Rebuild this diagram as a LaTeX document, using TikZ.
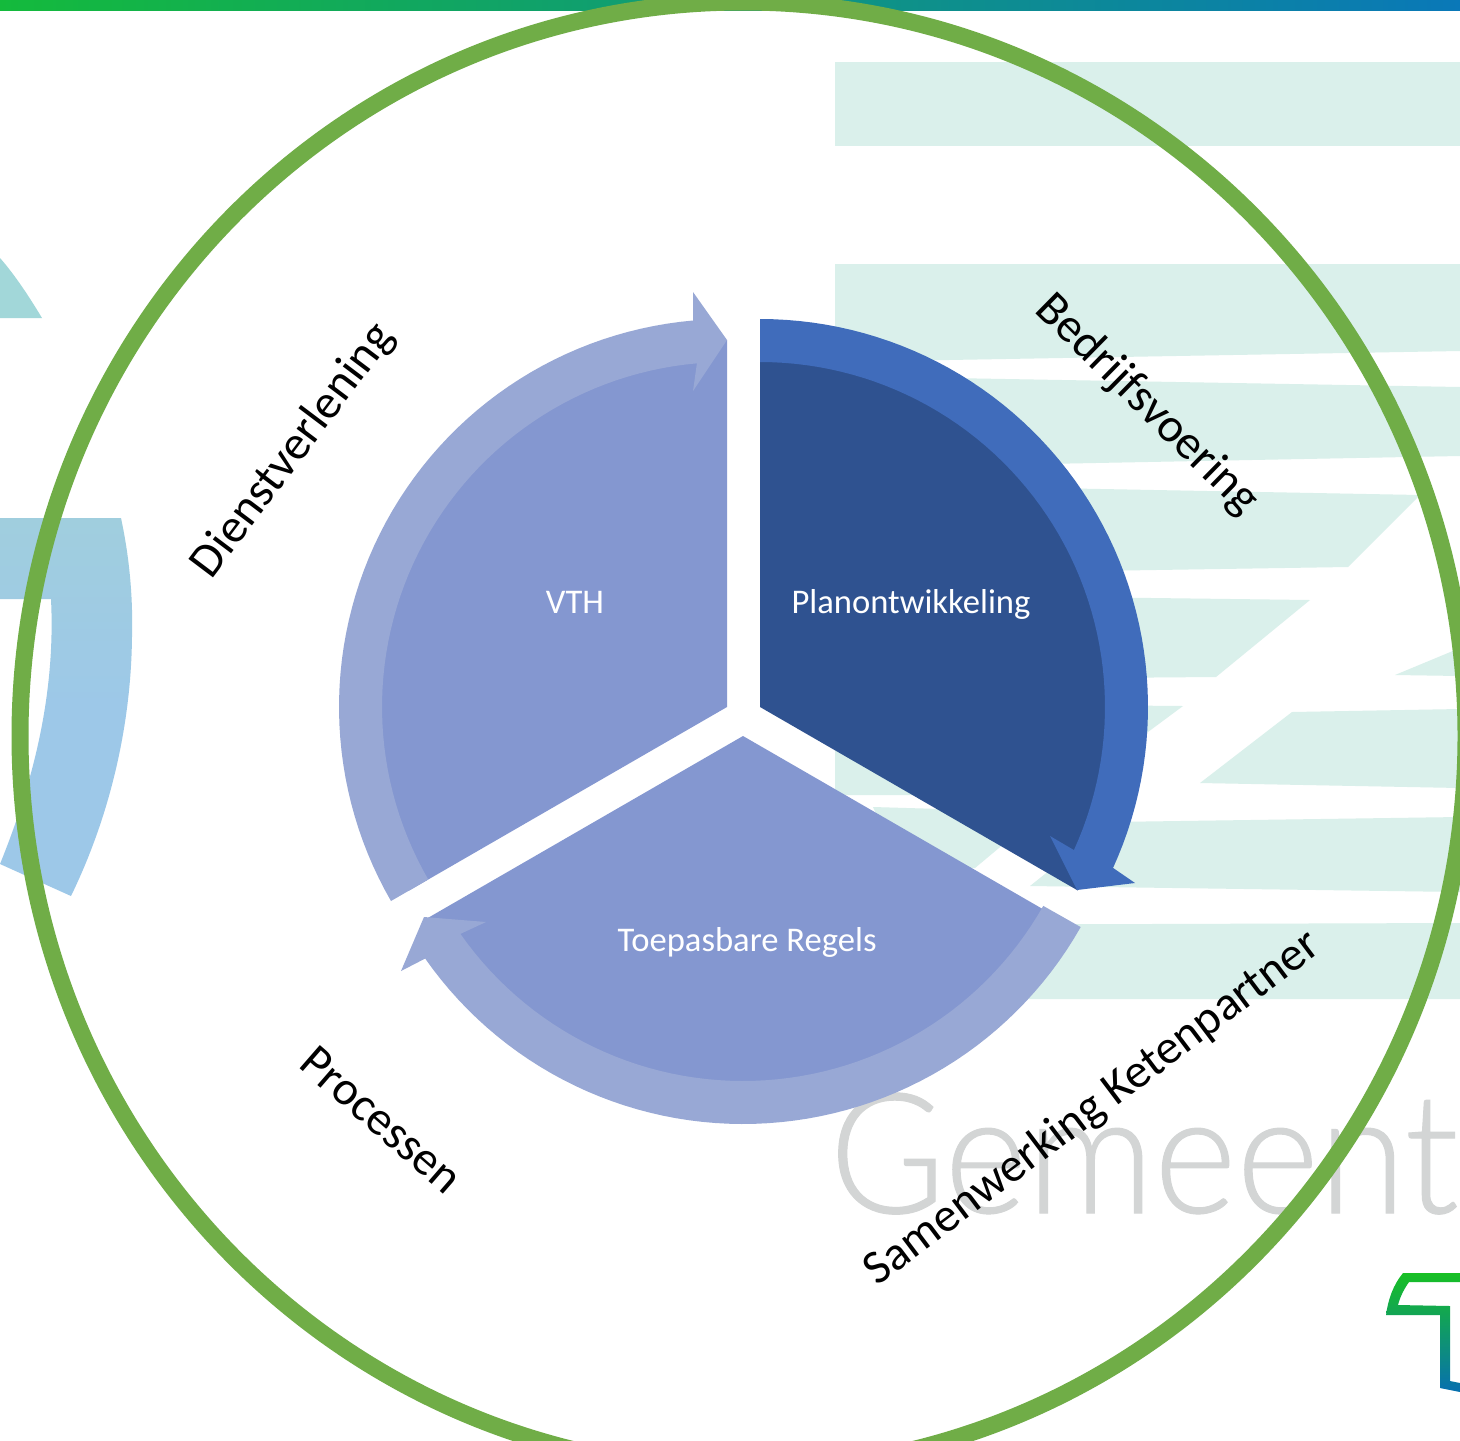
\documentclass[tikz,border=0pt]{standalone}
\usepackage{fontspec}
\setmainfont{Carlito}
\newfontfamily\gemfont[FakeStretch=0.94,FakeBold=0.6]{Lato Light}
\definecolor{pale}{HTML}{DAF0EB}
\definecolor{ringgreen}{HTML}{70AD47}
\definecolor{piedark}{HTML}{2F5290}
\definecolor{piemid}{HTML}{8497D0}
\definecolor{arrowdark}{HTML}{406CBB}
\definecolor{arrowmid}{HTML}{98A8D5}
\definecolor{logoteal}{HTML}{A2D7D9}
\definecolor{logotop}{HTML}{A0CEDE}
\definecolor{logosky}{HTML}{9DC8E8}
\definecolor{gemgrey}{HTML}{D3D5D5}
\definecolor{barleft}{HTML}{14BA3C}
\definecolor{barright}{HTML}{0A78B8}
\definecolor{tgreen}{HTML}{18C024}
\definecolor{tmid}{HTML}{10A070}
\definecolor{tblue}{HTML}{0770B0}
\tikzset{
  stripe/.style={fill=pale,draw=none},
  pielabel/.style={inner sep=0pt,text=white,font=\fontsize{17.3}{20}\selectfont},
  ringlabel/.style={inner sep=0pt,text=black,font=\fontsize{24}{28}\selectfont},
}
\newcommand{\piepath}[4]{(#1,#2) -- plot[domain=#3:#4,samples=60] ({#1+367*cos(\x)},{#2+367*sin(\x)}) -- cycle}
\newcommand{\bandpath}[4]{plot[domain=#3:#4,samples=60] ({#1+388*cos(\x)},{#2+388*sin(\x)})}
\newcommand{\bandback}[4]{-- plot[domain=#4:#3,samples=60] ({#1+345*cos(\x)},{#2+345*sin(\x)})}
\begin{document}
\begin{tikzpicture}[x=0.5pt,y=-0.5pt]
\useasboundingbox (0,0) rectangle (1460,1440);
\clip (0,0) rectangle (1460,1440);
\fill[white] (0,0) rectangle (1460,1440);
% watermark stripes
\fill[stripe] (835,62) -- (1460,62) -- (1460,146) -- (835,146) -- cycle;
\fill[stripe] (835,264) -- (1460,264) -- (1460,351) -- (835,362) -- cycle;
\fill[stripe] (835,376) -- (1460,387) -- (1460,456) -- (835,468) -- cycle;
\fill[stripe] (835,484) -- (1420,495) -- (1348,567) -- (835,575) -- cycle;
\fill[stripe] (835,594) -- (1310,600) -- (1216,677) -- (835,680) -- cycle;
\fill[stripe] (835,703) -- (1183,706) -- (1063,795) -- (835,795) -- cycle;
\fill[stripe] (1395,675) -- (1460,648) -- (1460,676) -- cycle;
\fill[stripe] (1200,783) -- (1292,712) -- (1460,709) -- (1460,788) -- cycle;
\fill[stripe] (873,807) -- (1042,812) -- (975,868) -- (900,868) -- cycle;
\fill[stripe] (1110,822) -- (1460,817) -- (1460,892) -- (1030,886) -- cycle;
\fill[stripe] (835,925) -- (1460,923) -- (1460,999) -- (835,999) -- cycle;
\node[anchor=base west,inner sep=0pt,text=gemgrey,font=\gemfont\fontsize{84}{90}\selectfont] (gem) at (829,1213) {Gemeente};
% left logo fragments
\fill[logoteal] (0,258) .. controls (15,275) and (30,298) .. (42,318) -- (0,318) -- cycle;
\shade[top color=logotop,bottom color=logosky,middle color=logosky]
  (0,518) -- (121,518) .. controls (130,560) and (133,600) .. (132,637)
  .. controls (131,730) and (108,820) .. (71,896) -- (0,864)
  .. controls (30,790) and (56,700) .. (51,599) -- (0,599) -- cycle;
% bottom-right logo fragment
\shade[top color=tgreen,middle color=tmid,bottom color=tblue]
  (1403,1273) -- (1460,1273) -- (1460,1282) -- (1409,1282) .. controls (1404,1289) and (1400,1297) .. (1398,1305)
  -- (1450,1306) -- (1450,1381) -- (1460,1383) -- (1460,1392) -- (1440,1388) -- (1440,1315) -- (1386,1315)
  .. controls (1388,1300) and (1393,1285) .. (1403,1273) -- cycle;
% top bar
\shade[left color=barleft,right color=barright] (0,0) rectangle (1460,10);
% pies
\fill[piedark] \piepath{760}{707}{-90}{30};
\fill[piemid] \piepath{727}{707}{150}{270};
\fill[piemid] \piepath{743}{736}{30}{150};
% circular arrows
\fill[arrowdark] \bandpath{760}{707}{-90}{24.5} -- (1135,883) -- (1077,890) -- (1050,836) \bandback{760}{707}{-90}{24.5} -- cycle;
\fill[arrowmid] \bandpath{727}{707}{150}{265} -- (693,292) -- (727,340) -- (693,391) \bandback{727}{707}{150}{265} -- cycle;
\fill[arrowmid] \bandpath{743}{736}{29.5}{145} -- (401,971) -- (424,917) -- (486,922) \bandback{743}{736}{29.5}{145} -- cycle;
% outer ring
\draw[ringgreen,line width=8.5pt] (743,736) ellipse [x radius=723,y radius=734];
% labels
\node[pielabel] (plan) at (911,604) {Planontwikkeling};
\node[pielabel] (vth) at (575,602) {VTH};
\node[pielabel] (regels) at (747,942) {Toepasbare Regels};
\node[ringlabel,rotate=53] (dienst) at (293.5,451) {Dienstverlening};
\node[ringlabel,rotate=-44.5] (bedrijf) at (1147,405) {Bedrijfsvoering};
\node[ringlabel,rotate=37] (samen) at (1093,1108.5) {Samenwerking Ketenpartner};
\node[ringlabel,rotate=-41] (proc) at (381.5,1120) {Processen};
\end{tikzpicture}
\end{document}
